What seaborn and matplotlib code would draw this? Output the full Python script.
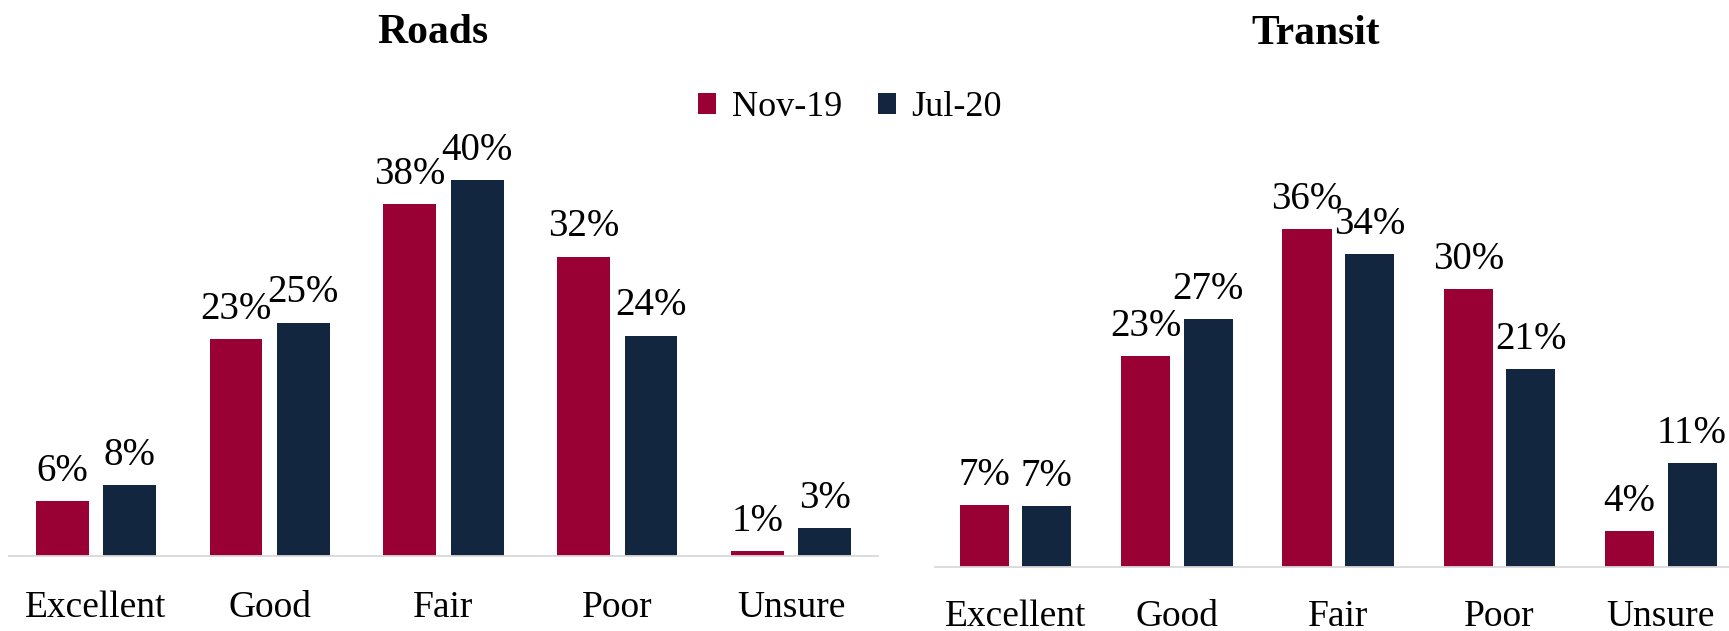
import matplotlib
matplotlib.use("Agg")
import matplotlib.pyplot as plt
import seaborn as sns
import pandas as pd

categories = ["Excellent", "Good", "Fair", "Poor", "Unsure"]
periods = ["Nov-19", "Jul-20"]

roads_nov = [5.9, 23.3, 37.8, 32.2, 0.5]
roads_jul = [7.6, 25.1, 40.4, 23.7, 3.0]
roads_nov_labels = ["6%", "23%", "38%", "32%", "1%"]
roads_jul_labels = ["8%", "25%", "40%", "24%", "3%"]

transit_nov = [6.7, 22.7, 36.4, 29.9, 3.9]
transit_jul = [6.6, 26.7, 33.7, 21.3, 11.2]
transit_nov_labels = ["7%", "23%", "36%", "30%", "4%"]
transit_jul_labels = ["7%", "27%", "34%", "21%", "11%"]

colors = ["#990033", "#13263F"]

sns.set_theme(style="white")
plt.rcParams["font.family"] = ["Liberation Serif", "DejaVu Serif"]
plt.rcParams["text.color"] = "black"
plt.rcParams["xtick.color"] = "black"

W, H = 1729, 631
fig = plt.figure(figsize=(W / 100, H / 100), dpi=100)


def make_df(nov, jul):
    rows = []
    for c, v in zip(categories, nov):
        rows.append({"Rating": c, "Pct": v, "Period": periods[0]})
    for c, v in zip(categories, jul):
        rows.append({"Rating": c, "Pct": v, "Period": periods[1]})
    return pd.DataFrame(rows)


def draw(ax, nov, jul, nov_lbl, jul_lbl, tickpad):
    df = make_df(nov, jul)
    sns.barplot(data=df, x="Rating", y="Pct", hue="Period", order=categories,
                hue_order=periods, palette=colors, width=0.775, gap=0.215,
                ax=ax, legend=False, saturation=1, edgecolor="none")
    for cont, lbls in zip(ax.containers, [nov_lbl, jul_lbl]):
        ax.bar_label(cont, labels=lbls, padding=8, fontsize=28, color="black")
    ax.set_ylim(0, 45)
    ax.set_xlim(-0.5, 4.5)
    ax.set_xlabel("")
    ax.set_ylabel("")
    ax.set_yticks([])
    for s in ["top", "left", "right"]:
        ax.spines[s].set_visible(False)
    ax.spines["bottom"].set_color("#D9D9D9")
    ax.spines["bottom"].set_linewidth(1.3)
    ax.tick_params(axis="x", length=0, pad=tickpad, labelsize=27, labelcolor="black")
    ax.patch.set_alpha(0)


axL = fig.add_axes([9 / W, 75 / H, 869 / W, 418.5 / H])
draw(axL, roads_nov, roads_jul, roads_nov_labels, roads_jul_labels, 25)

axR = fig.add_axes([935 / W, 63.6 / H, 806.5 / W, 418.5 / H])
draw(axR, transit_nov, transit_jul, transit_nov_labels, transit_jul_labels, 23)

fig.text(433 / W, 1 - 43 / H, "Roads", ha="center", va="baseline",
         fontsize=30, fontweight="bold", color="black")
fig.text(1315.6 / W, 1 - 43.5 / H, "Transit", ha="center", va="baseline",
         fontsize=30, fontweight="bold", color="black")

handles = [axL.containers[0].patches[0], axL.containers[1].patches[0]]
leg = fig.legend(handles, periods, loc="center", bbox_to_anchor=(850 / W, 1 - 108 / H),
                 ncol=2, frameon=False, fontsize=26, handlelength=0.5, handleheight=0.5,
                 handletextpad=0.42, columnspacing=1.0)
for t in leg.get_texts():
    t.set_color("black")

fig.savefig("out.png", dpi=100)
